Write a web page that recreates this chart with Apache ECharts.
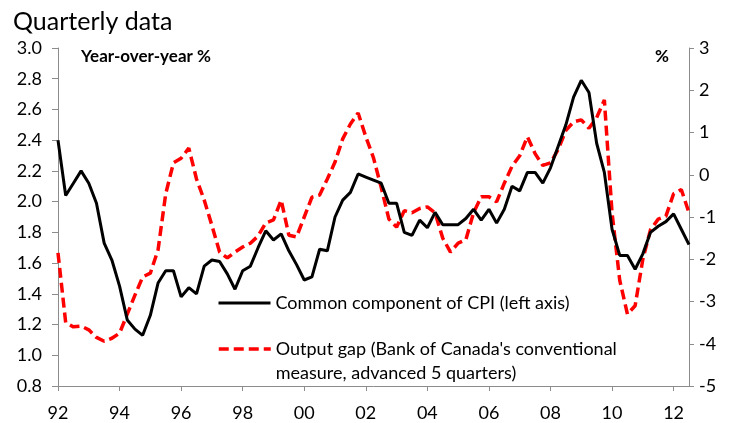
<!DOCTYPE html>
<html>
<head>
<meta charset="utf-8">
<script src="https://cdn.jsdelivr.net/npm/echarts@6/dist/echarts.min.js"></script>
<style>
  html, body { margin: 0; padding: 0; background: #fff; }
  #chart { width: 732px; height: 423px; }
</style>
</head>
<body>
<div id="chart"></div>
<script>
// quarters 1992Q1 .. 2012Q3
var quarters = [];
for (var y = 1992; y <= 2012; y++) {
    for (var q = 1; q <= 4; q++) {
        if (y === 2012 && q > 3) break;
        quarters.push(y + 'Q' + q);
    }
}

// common component of CPI, y/y %, left axis
var cpiCommon = [
    2.40, 2.04, 2.12, 2.20, 2.12, 1.99, 1.73, 1.62, 1.45, 1.23,
    1.17, 1.13, 1.26, 1.47, 1.55, 1.55, 1.38, 1.44, 1.40, 1.58,
    1.62, 1.61, 1.53, 1.43, 1.55, 1.58, 1.70, 1.81, 1.75, 1.79,
    1.68, 1.59, 1.49, 1.51, 1.69, 1.68, 1.90, 2.01, 2.06, 2.18,
    2.16, 2.14, 2.12, 1.99, 1.99, 1.80, 1.78, 1.88, 1.83, 1.93,
    1.85, 1.85, 1.85, 1.89, 1.95, 1.88, 1.95, 1.86, 1.95, 2.10,
    2.07, 2.19, 2.19, 2.12, 2.22, 2.36, 2.50, 2.68, 2.79, 2.71,
    2.38, 2.19, 1.82, 1.65, 1.65, 1.56, 1.66, 1.80, 1.84, 1.87,
    1.92, 1.82, 1.72
];

// output gap, %, right axis
var outputGap = [
    -1.85, -3.50, -3.60, -3.58, -3.67, -3.85, -3.94, -3.87, -3.75, -3.30,
    -2.85, -2.42, -2.33, -1.78, -0.45, 0.28, 0.39, 0.63, -0.10, -0.60,
    -1.20, -1.83, -1.97, -1.83, -1.71, -1.62, -1.45, -1.14, -1.07, -0.60,
    -1.43, -1.47, -1.00, -0.53, -0.48, -0.10, 0.30, 0.85, 1.20, 1.46,
    0.90, 0.40, -0.30, -1.05, -1.24, -0.85, -0.90, -0.80, -0.76, -0.90,
    -1.50, -1.83, -1.62, -1.54, -0.90, -0.52, -0.52, -0.64, -0.20, 0.20,
    0.45, 0.90, 0.50, 0.22, 0.28, 0.60, 1.05, 1.25, 1.30, 1.10,
    1.35, 1.77, -0.90, -2.50, -3.30, -3.10, -2.00, -1.30, -1.05, -0.98,
    -0.45, -0.35, -0.90
];

var seriesNames = [
    'Common component of CPI (left axis)',
    "Output gap (Bank of Canada's conventional\nmeasure, advanced 5 quarters)"
];

var font = 'Lato';
var axisGrey = '#8c8c8c';

var chart = echarts.init(document.getElementById('chart'));

var legendText = {
    fontFamily: font, fontSize: 18, color: '#000',
    rich: { a: { fontFamily: font, fontSize: 18, color: '#000', lineHeight: 24 } }
};

var legendBase = {
    orient: 'vertical',
    left: 217,
    padding: 0,
    itemWidth: 52,
    itemHeight: 14,
    itemGap: 6,
    itemStyle: { opacity: 0 },
    selectedMode: false,
    textStyle: legendText
};

var option = {
    animation: false,
    textStyle: { fontFamily: font, color: '#000' },
    title: [
        { text: 'Quarterly data', left: 13, top: 9, padding: 0,
          textStyle: { fontFamily: font, fontSize: 25, fontWeight: 'normal', color: '#000' } },
        { text: 'Year-over-year %', left: 81, top: 48, padding: 0,
          textStyle: { fontFamily: font, fontSize: 17, fontWeight: 'bold', color: '#000' } },
        { text: '%', left: 655, top: 48, padding: 0,
          textStyle: { fontFamily: font, fontSize: 17, fontWeight: 'bold', color: '#000' } }
    ],
    legend: [
        Object.assign({}, legendBase, {
            top: 294,
            lineStyle: { width: 3 },
            data: [seriesNames[0]]
        }),
        Object.assign({}, legendBase, {
            top: 316,
            lineStyle: { width: 3.5 },
            // blank first line keeps the dashed key level with the first text line
            formatter: function (name) {
                return ['{a| }'].concat(name.split('\n').map(function (s) {
                    return '{a|' + s + '}';
                })).join('\n');
            },
            data: [seriesNames[1]]
        })
    ],
    grid: { left: 58, right: 43, top: 48, bottom: 37 },
    xAxis: {
        type: 'category',
        data: quarters,
        boundaryGap: false,
        axisLine: { onZero: false, lineStyle: { color: axisGrey, width: 1 } },
        axisTick: { interval: 7, length: 5, lineStyle: { color: axisGrey } },
        axisLabel: {
            interval: 7,
            margin: 18,
            fontSize: 18,
            color: '#000',
            formatter: function (v) { return v.slice(2, 4); }
        },
        splitLine: { show: false }
    },
    yAxis: [
        {
            type: 'value',
            min: 0.8,
            max: 3.0,
            interval: 0.2,
            axisLine: { show: true, lineStyle: { color: axisGrey } },
            axisTick: { show: true, length: 6, lineStyle: { color: axisGrey } },
            axisLabel: { margin: 16, fontSize: 18, color: '#000',
                formatter: function (v) { return v.toFixed(1); } },
            splitLine: { show: false }
        },
        {
            type: 'value',
            min: -5,
            max: 3,
            interval: 1,
            position: 'right',
            axisLine: { show: true, lineStyle: { color: axisGrey } },
            axisTick: { show: true, length: 5, lineStyle: { color: axisGrey } },
            axisLabel: { margin: 10, fontSize: 18, color: '#000' },
            splitLine: { show: false }
        }
    ],
    series: [
        {
            name: seriesNames[0],
            type: 'line',
            yAxisIndex: 0,
            data: cpiCommon,
            symbol: 'none',
            lineStyle: { color: '#000', width: 3 },
            itemStyle: { color: '#000' },
            z: 3
        },
        {
            name: seriesNames[1],
            type: 'line',
            yAxisIndex: 1,
            data: outputGap,
            symbol: 'none',
            lineStyle: { color: '#ff0000', width: 3.5, type: [10, 5] },
            itemStyle: { color: '#ff0000' },
            z: 2
        }
    ]
};

chart.setOption(option);

window.onresize = chart.resize;
</script>
</body>
</html>
